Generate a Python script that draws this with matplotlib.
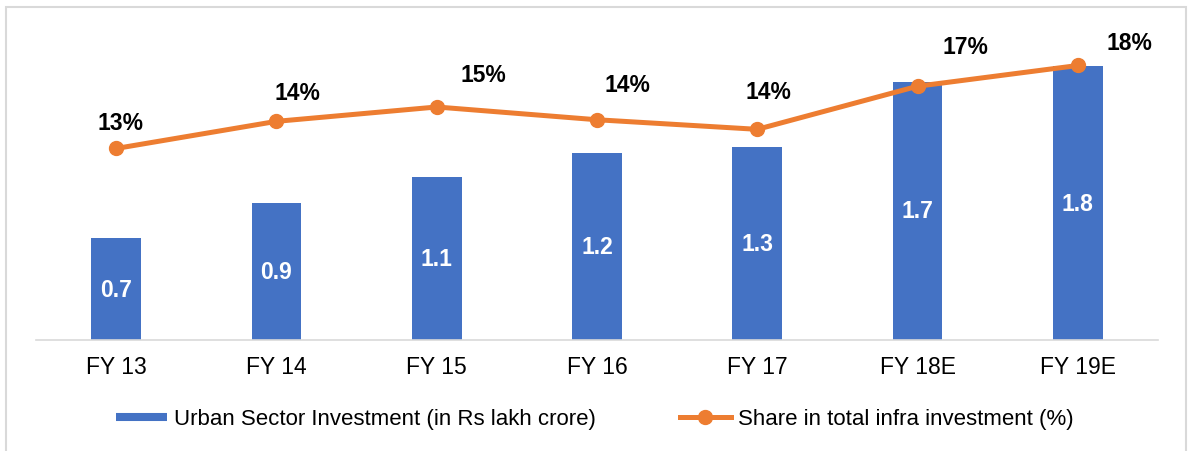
import matplotlib
matplotlib.use("Agg")
import matplotlib.pyplot as plt
from matplotlib.lines import Line2D
from matplotlib.patches import Rectangle

plt.rcParams['font.family'] = ['Liberation Sans', 'DejaVu Sans']

years = ["FY 13", "FY 14", "FY 15", "FY 16", "FY 17", "FY 18E", "FY 19E"]
investment = [0.67, 0.90, 1.07, 1.23, 1.27, 1.70, 1.80]
share = [13.0, 14.7, 15.6, 14.8, 14.2, 16.9, 18.2]
share_labels = ["13%", "14%", "15%", "14%", "14%", "17%", "18%"]

blue = "#4472C4"
orange = "#ED7D31"
fs = 16.5

fig = plt.figure(figsize=(11.89, 4.52), dpi=100)
# light frame round the chart, open at the bottom edge
fig.patches.append(Rectangle((6/1189, -0.02), 1180/1189, 444/452 + 0.02, transform=fig.transFigure,
                             fill=False, edgecolor="#D9D9D9", linewidth=1.5))

ax = fig.add_axes([36/1189, 1-341/452, 1122/1189, 319.2/452])
x = list(range(len(years)))
bars = ax.bar(x, investment, width=0.31, color=blue, zorder=2)
for xi, v in zip(x, investment):
    ax.text(xi, v/2, f"{v:.1f}", ha="center", va="center", color="white",
            fontsize=fs, fontweight="bold", zorder=3)

ax.set_xlim(-0.5, len(years) - 0.5)
ax.set_ylim(0, 2.1)
ax.set_xticks(x)
ax.set_xticklabels(years, fontsize=fs)
ax.tick_params(axis="x", length=0, pad=11)
ax.set_yticks([])
for s in ["top", "left", "right"]:
    ax.spines[s].set_visible(False)
ax.spines["bottom"].set_color("#D9D9D9")
ax.spines["bottom"].set_linewidth(1.2)

ax2 = ax.twinx()
ax2.set_ylim(1, 21)
ax2.plot(x, share, color=orange, linewidth=3.6, marker="o", markersize=10, zorder=4)
ax2.set_yticks([])
for s in ["top", "left", "right", "bottom"]:
    ax2.spines[s].set_visible(False)

# label offsets in pixels (hand placed in the original)
offsets = [(4, 26), (21, 29), (47, 32), (30, 35), (11, 38), (48, 40), (52, 23)]
for xi, v, lab, (dx, dy) in zip(x, share, share_labels, offsets):
    ax2.annotate(lab, (xi, v), xytext=(dx, dy), textcoords="offset pixels",
                 ha="center", va="center", fontsize=fs, fontweight="bold")

handles = [
    Line2D([], [], color=blue, linewidth=5.8, solid_capstyle="butt"),
    Line2D([], [], color=orange, linewidth=3.6, marker="o", markersize=10),
]
labels = ["Urban Sector Investment (in Rs lakh crore)", "Share in total infra investment (%)"]
fig.legend(handles, labels, loc="center", bbox_to_anchor=(0.5, 1-420/452), ncol=2,
           frameon=False, fontsize=16, handlelength=2.3, handletextpad=0.3,
           columnspacing=3.8)

fig.savefig("out.png", dpi=100)
